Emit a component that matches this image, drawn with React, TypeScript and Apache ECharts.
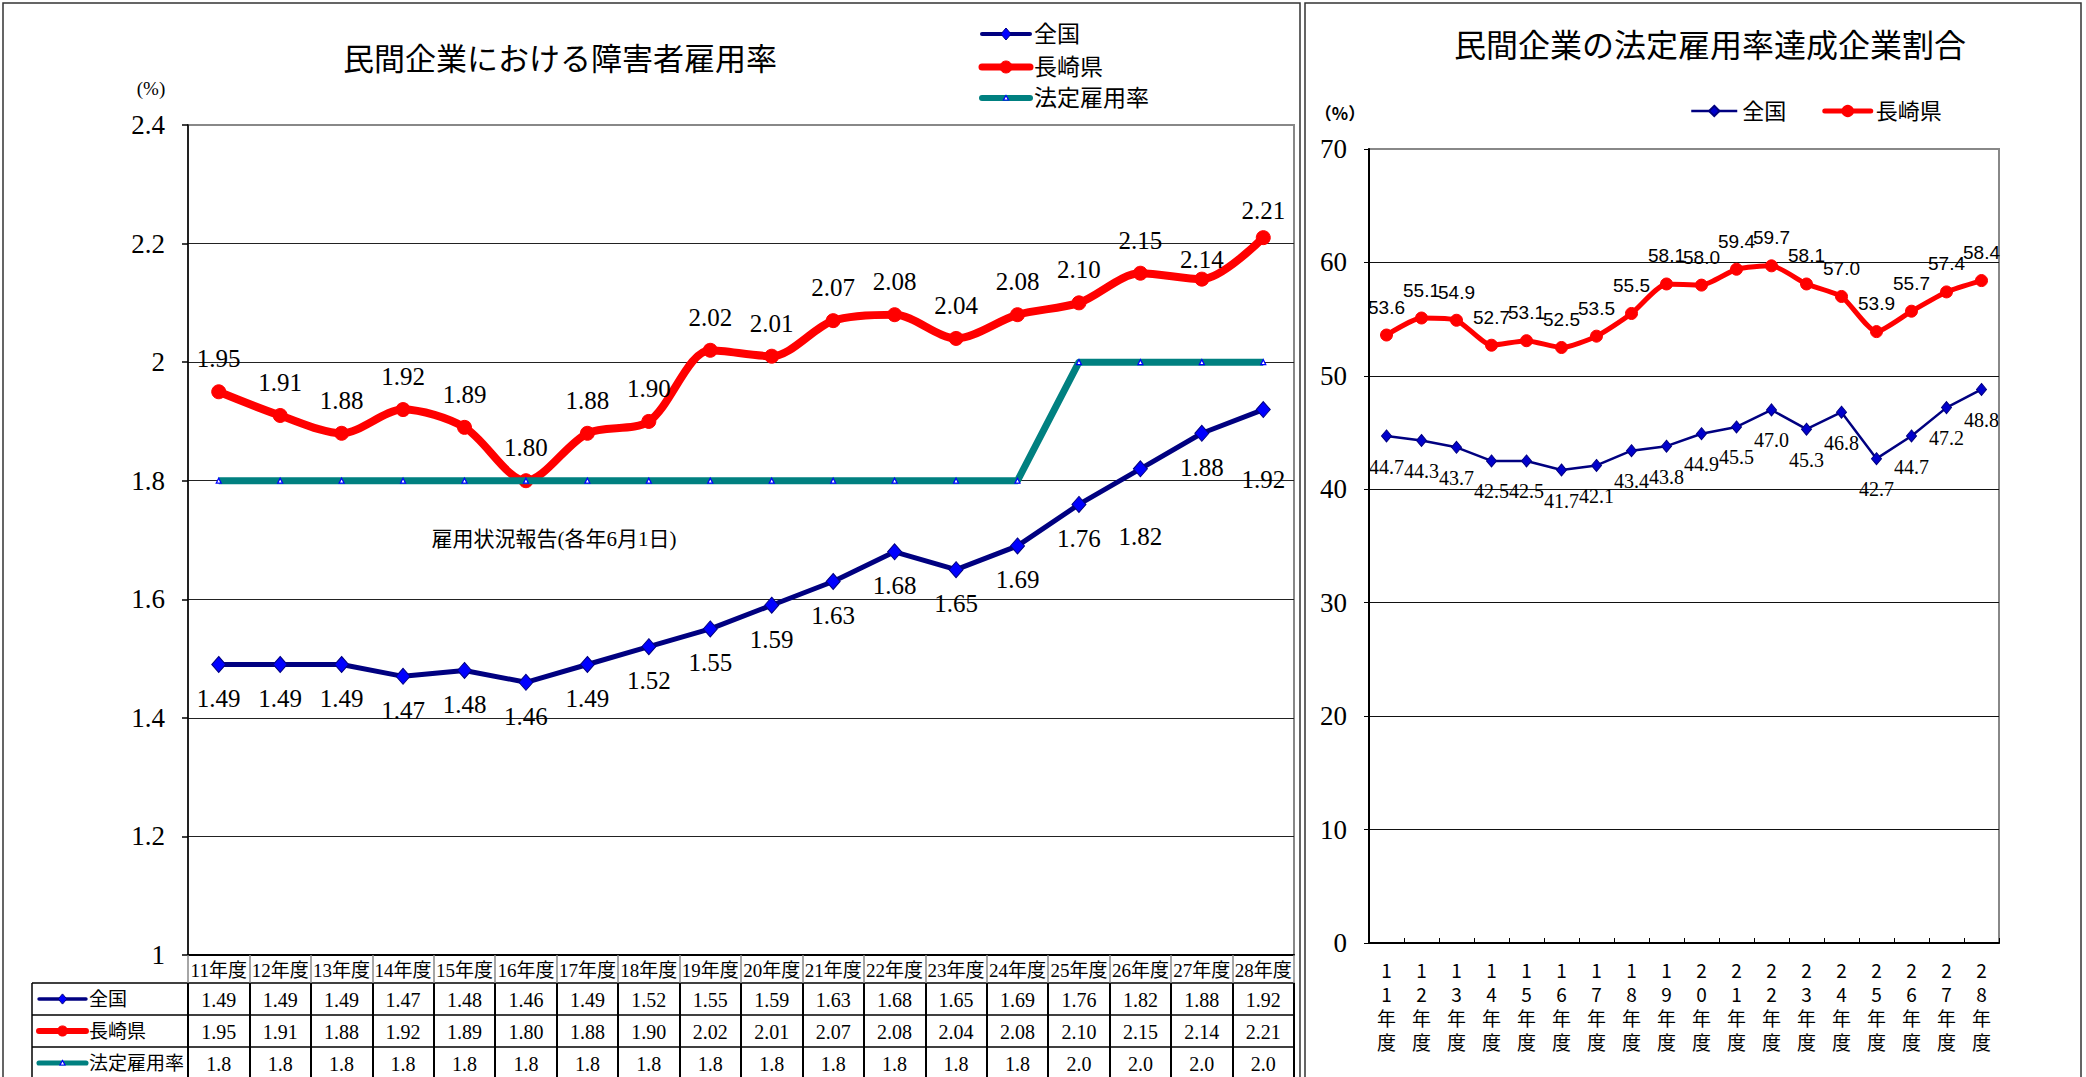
import React, { useEffect, useRef } from 'react';
import * as echarts from 'echarts';

// ---------- data ----------
const categories = ['11年度', '12年度', '13年度', '14年度', '15年度', '16年度', '17年度', '18年度', '19年度', '20年度', '21年度', '22年度', '23年度', '24年度', '25年度', '26年度', '27年度', '28年度'];
const nationalRate = [1.49, 1.49, 1.49, 1.47, 1.48, 1.46, 1.49, 1.52, 1.55, 1.59, 1.63, 1.68, 1.65, 1.69, 1.76, 1.82, 1.88, 1.92];
const nagasakiRate = [1.95, 1.91, 1.88, 1.92, 1.89, 1.80, 1.88, 1.90, 2.02, 2.01, 2.07, 2.08, 2.04, 2.08, 2.10, 2.15, 2.14, 2.21];
const legalRate = [1.8, 1.8, 1.8, 1.8, 1.8, 1.8, 1.8, 1.8, 1.8, 1.8, 1.8, 1.8, 1.8, 1.8, 2.0, 2.0, 2.0, 2.0];
const leftSeriesNames = ['全国', '長崎県', '法定雇用率'];
const leftTitle = '民間企業における障害者雇用率';
const leftNote = '雇用状況報告(各年6月1日)';
const leftYMin = 1;
const leftYMax = 2.4;
const leftYInterval = 0.2;

const nationalAchieve = [44.7, 44.3, 43.7, 42.5, 42.5, 41.7, 42.1, 43.4, 43.8, 44.9, 45.5, 47.0, 45.3, 46.8, 42.7, 44.7, 47.2, 48.8];
const nagasakiAchieve = [53.6, 55.1, 54.9, 52.7, 53.1, 52.5, 53.5, 55.5, 58.1, 58.0, 59.4, 59.7, 58.1, 57.0, 53.9, 55.7, 57.4, 58.4];
const rightSeriesNames = ['全国', '長崎県'];
const rightTitle = '民間企業の法定雇用率達成企業割合';
const rightYMin = 0;
const rightYMax = 70;
const rightYInterval = 10;

// ---------- styles ----------
const SERIF = "'Liberation Serif', 'Noto Sans CJK JP', serif";
const SANS = "'Noto Sans CJK JP', 'Liberation Sans', sans-serif";
const NARROW = "'Liberation Sans Narrow', 'Liberation Sans', 'Noto Sans CJK JP', sans-serif";
const NAVY = '#000080';
const BLUE = '#0000FF';
const RED = '#FF0000';
const TEAL = '#008080';

// manual label nudges (vertical px) as placed in the original workbook
const nationalLabelNudge: Record<number, number> = { 15: 34, 17: 36 };
const nagasakiLabelNudge: Record<number, number> = { 16: 13, 17: 6 };

function tableAxis(data: string[], offset: number, header: boolean, tickLen: number) {
  return {
    type: 'category',
    gridIndex: 0,
    position: 'bottom',
    offset,
    data,
    boundaryGap: true,
    axisLine: { show: true, lineStyle: { color: '#000', width: header ? 2 : 1.5 } },
    axisTick: {
      show: true,
      interval: 0,
      inside: false,
      length: tickLen,
      lineStyle: { color: header ? '#888' : '#000', width: header ? 1.5 : 2 },
    },
    axisLabel: {
      interval: 0,
      margin: header ? 6 : 7,
      fontSize: header ? 19 : 20,
      fontFamily: SERIF,
      color: '#000',
    },
    splitLine: { show: false },
  };
}

function txt(x: number, y: number, text: string, fontSize: number, align: string, extra: any = {}) {
  return {
    type: 'text',
    x,
    y,
    silent: true,
    style: {
      text,
      fontSize,
      fontFamily: extra.fontFamily || SERIF,
      fontWeight: extra.fontWeight || 'normal',
      fill: '#000',
      align,
      verticalAlign: 'middle',
      textAlign: align,
      textVerticalAlign: 'middle',
    },
  };
}

function hline(x1: number, x2: number, y: number, color: string, w: number, cap = 'butt') {
  return { type: 'line', silent: true, shape: { x1, y1: y, x2, y2: y }, style: { stroke: color, lineWidth: w, lineCap: cap } };
}

function diamond(cx: number, cy: number, r: number) {
  return {
    type: 'polygon',
    silent: true,
    shape: { points: [[cx, cy - r], [cx + r * 0.85, cy], [cx, cy + r], [cx - r * 0.85, cy]] },
    style: { fill: BLUE, stroke: NAVY, lineWidth: 1 },
  };
}
function circle(cx: number, cy: number, r: number) {
  return { type: 'circle', silent: true, shape: { cx, cy, r }, style: { fill: RED, stroke: RED, lineWidth: 1 } };
}
function tri(cx: number, cy: number, r: number) {
  return {
    type: 'polygon',
    silent: true,
    shape: { points: [[cx, cy - r], [cx + r, cy + r * 0.8], [cx - r, cy + r * 0.8]] },
    style: { fill: '#fff', stroke: BLUE, lineWidth: 1.2 },
  };
}

function legendEntry(x1: number, x2: number, y: number, idx: number, textX: number, fontSize: number, scale: number) {
  const cx = (x1 + x2) / 2;
  const items: any[] = [];
  if (idx === 0) {
    items.push(hline(x1, x2, y, NAVY, 4 * scale, 'round'));
    items.push(diamond(cx, y, 6 * scale));
  } else if (idx === 1) {
    items.push(hline(x1, x2, y, RED, 7 * scale, 'round'));
    items.push(circle(cx, y, 6 * scale));
  } else {
    items.push(hline(x1, x2, y, TEAL, 6 * scale, 'round'));
    items.push(tri(cx, y, 2.5));
  }
  items.push(txt(textX, y, leftSeriesNames[idx], fontSize, 'left'));
  return items;
}

function withNudge(values: number[], nudge: Record<number, number>) {
  return values.map((v, i) => (nudge[i] !== undefined ? { value: v, label: { offset: [0, nudge[i]] } } : v));
}

function fmt(digits: number) {
  return (p: any) => Number(Array.isArray(p.value) ? p.value[1] : p.value).toFixed(digits);
}

function buildLeft() {
  const graphics: any[] = [];
  // frame
  graphics.push({ type: 'rect', silent: true, shape: { x: 3, y: 3, width: 1297, height: 1100 }, style: { fill: 'none', stroke: '#333', lineWidth: 1.5 } });
  graphics.push(txt(560, 59, leftTitle, 31, 'center'));
  graphics.push(txt(151, 88, '(%)', 19, 'center'));
  graphics.push(txt(554, 539, leftNote, 21, 'center'));
  // legend
  const ly = [34, 67, 98];
  for (let i = 0; i < 3; i++) graphics.push(...legendEntry(982, 1030, ly[i], i, 1034, 23, 1));
  // table left column
  graphics.push(hline(32, 188, 983, '#000', 1.5));
  graphics.push(hline(32, 188, 1015, '#000', 1.5));
  graphics.push(hline(32, 188, 1047, '#000', 1.5));
  graphics.push({ type: 'line', silent: true, shape: { x1: 32, y1: 983, x2: 32, y2: 1080 }, style: { stroke: '#000', lineWidth: 1.5 } });
  const ty = [999, 1031, 1063];
  for (let i = 0; i < 3; i++) graphics.push(...legendEntry(39, 86, ty[i], i, 89, 19, 0.85));

  return {
    animation: false,
    backgroundColor: '#fff',
    grid: { left: 188, right: 8, top: 125, bottom: 122, show: true, borderColor: '#888', borderWidth: 2, backgroundColor: 'transparent' },
    xAxis: [
      tableAxis(categories, 0, true, 28),
      tableAxis(nationalRate.map((v) => v.toFixed(2)), 28, false, 32),
      tableAxis(nagasakiRate.map((v) => v.toFixed(2)), 60, false, 32),
      tableAxis(legalRate.map((v) => v.toFixed(1)), 92, false, 40),
    ],
    yAxis: {
      type: 'value',
      min: leftYMin,
      max: leftYMax,
      interval: leftYInterval,
      axisLine: { show: true, lineStyle: { color: '#000', width: 1.5 } },
      axisTick: { show: true, length: 6, lineStyle: { color: '#000', width: 1.5 } },
      axisLabel: {
        margin: 23,
        fontSize: 27,
        fontFamily: SERIF,
        color: '#000',
        formatter: (v: number) => String(Math.round(v * 10) / 10),
      },
      splitLine: { show: true, showMaxLine: false, showMinLine: false, lineStyle: { color: '#222', width: 1 } },
    },
    series: [
      {
        name: leftSeriesNames[0],
        type: 'line',
        data: withNudge(nationalRate, nationalLabelNudge),
        symbol: 'diamond',
        symbolSize: [14, 16],
        lineStyle: { color: NAVY, width: 5, cap: 'round', join: 'round' },
        itemStyle: { color: BLUE, borderColor: NAVY, borderWidth: 1 },
        label: { show: true, position: 'bottom', distance: 13, fontSize: 25, fontFamily: SERIF, color: '#000', formatter: fmt(2) },
        z: 3,
      },
      {
        name: leftSeriesNames[1],
        type: 'line',
        data: withNudge(nagasakiRate, nagasakiLabelNudge),
        smooth: 0.3,
        symbol: 'circle',
        symbolSize: 14,
        lineStyle: { color: RED, width: 8, cap: 'round', join: 'round' },
        itemStyle: { color: RED, borderColor: RED, borderWidth: 1 },
        label: { show: true, position: 'top', distance: 13, fontSize: 25, fontFamily: SERIF, color: '#000', formatter: fmt(2) },
        z: 4,
      },
      {
        name: leftSeriesNames[2],
        type: 'line',
        data: legalRate,
        symbol: 'triangle',
        symbolSize: 5,
        lineStyle: { color: TEAL, width: 7, join: 'round' },
        itemStyle: { color: '#fff', borderColor: BLUE, borderWidth: 1.2 },
        label: { show: false },
        z: 5,
      },
    ],
    graphic: { elements: graphics },
  };
}

function buildRight() {
  const graphics: any[] = [];
  graphics.push({ type: 'rect', silent: true, shape: { x: 3, y: 3, width: 776, height: 1100 }, style: { fill: 'none', stroke: '#333', lineWidth: 1.5 } });
  graphics.push(txt(408, 46, rightTitle, 32, 'center'));
  graphics.push(txt(38, 112, '（%）', 17, 'center', { fontFamily: SANS, fontWeight: 'bold' }));
  return {
    animation: false,
    backgroundColor: '#fff',
    grid: { left: 67, right: 87, top: 149, bottom: 134, show: true, borderColor: '#888', borderWidth: 2, backgroundColor: 'transparent' },
    legend: {
      data: rightSeriesNames,
      left: 383,
      top: 95,
      itemWidth: 46,
      itemHeight: 13,
      itemGap: 36,
      textStyle: { fontSize: 22, fontFamily: SERIF, color: '#000' },
      lineStyle: { width: 'inherit' },
    },
    xAxis: {
      type: 'category',
      data: categories,
      boundaryGap: true,
      axisLine: { show: true, lineStyle: { color: '#000', width: 2 } },
      axisTick: { show: true, inside: true, length: 5, interval: 0, lineStyle: { color: '#000', width: 1 } },
      axisLabel: {
        interval: 0,
        margin: 14,
        fontSize: 19,
        lineHeight: 24,
        fontFamily: SANS,
        color: '#000',
        formatter: (v: string) => v.split('').join('\n'),
      },
      splitLine: { show: false },
    },
    yAxis: {
      type: 'value',
      min: rightYMin,
      max: rightYMax,
      interval: rightYInterval,
      axisLine: { show: true, lineStyle: { color: '#000', width: 2 } },
      axisTick: { show: true, length: 5, lineStyle: { color: '#000' } },
      axisLabel: { margin: 22, fontSize: 27, fontFamily: SERIF, color: '#000' },
      splitLine: { show: true, showMaxLine: false, showMinLine: false, lineStyle: { color: '#111', width: 1 } },
    },
    series: [
      {
        name: rightSeriesNames[0],
        type: 'line',
        data: nationalAchieve,
        symbol: 'diamond',
        symbolSize: [10, 12],
        lineStyle: { color: NAVY, width: 2.5, join: 'round' },
        itemStyle: { color: '#0000CC', borderColor: NAVY, borderWidth: 1 },
        label: { show: true, position: 'bottom', distance: 14, fontSize: 20, fontFamily: SERIF, color: '#000', formatter: fmt(1) },
      },
      {
        name: rightSeriesNames[1],
        type: 'line',
        data: nagasakiAchieve,
        smooth: 0.2,
        symbol: 'circle',
        symbolSize: 12,
        lineStyle: { color: RED, width: 5, join: 'round', cap: 'round' },
        itemStyle: { color: RED, borderColor: RED, borderWidth: 1 },
        label: { show: true, position: 'top', distance: 12, fontSize: 19, fontFamily: NARROW, color: '#000', formatter: fmt(1) },
      },
    ],
    graphic: { elements: graphics },
  };
}

export default function App() {
  const leftRef = useRef<HTMLDivElement>(null);
  const rightRef = useRef<HTMLDivElement>(null);
  useEffect(() => {
    const left = echarts.init(leftRef.current as HTMLDivElement, null, { renderer: 'svg' });
    const right = echarts.init(rightRef.current as HTMLDivElement, null, { renderer: 'svg' });
    left.setOption(buildLeft() as any);
    right.setOption(buildRight() as any);
    return () => {
      left.dispose();
      right.dispose();
    };
  }, []);
  return (
    <div style={{ position: 'fixed', left: 0, top: 0, width: 2086, height: 1077, background: '#fff', overflow: 'hidden' }}>
      <div ref={leftRef} style={{ position: 'absolute', left: 0, top: 0, width: 1302, height: 1077 }} />
      <div ref={rightRef} style={{ position: 'absolute', left: 1302, top: 0, width: 784, height: 1077 }} />
    </div>
  );
}
